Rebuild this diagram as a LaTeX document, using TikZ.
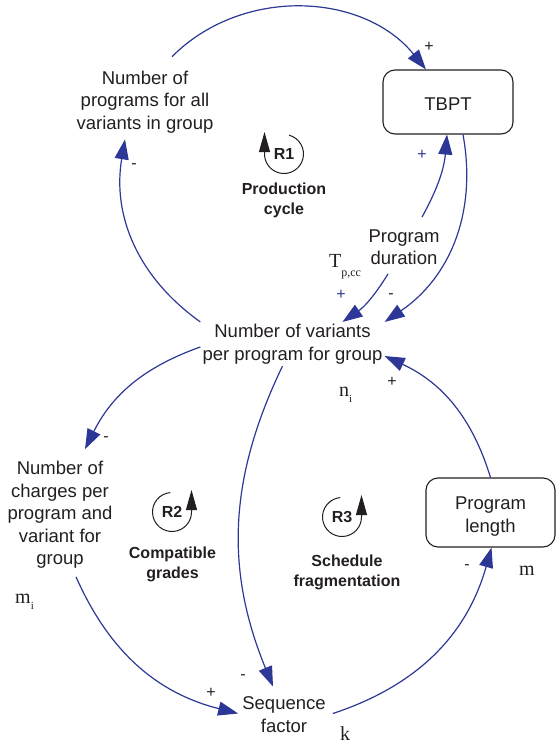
\documentclass[tikz,border=0pt]{standalone}
\usepackage{fontspec}
\setmainfont{Liberation Sans}
\newfontfamily\seriffont{Liberation Serif}
\usetikzlibrary{arrows.meta}
\definecolor{cldblue}{RGB}{45,55,150}
\definecolor{txt}{RGB}{35,31,32}
\begin{document}
\begin{tikzpicture}[x=1pt,y=-1pt,
  every node/.style={text=txt},
  var/.style={align=center, font=\fontsize{18.5}{22.5}\selectfont, inner sep=2pt},
  boxvar/.style={var, draw=txt, line width=1.1pt, rounded corners=12pt},
  conn/.style={draw=cldblue, line width=1.2pt, -{Triangle[length=20pt,width=14pt]}},
  pol/.style={font=\fontsize{16}{16}\selectfont, inner sep=0pt},
  bpol/.style={pol, text=cldblue},
  loopname/.style={font=\bfseries\fontsize{16}{20}\selectfont, align=center, inner sep=0pt},
  loopid/.style={font=\bfseries\fontsize{16}{16}\selectfont, inner sep=0pt},
  looparc/.style={draw=txt, line width=1pt, -{Triangle[length=20pt,width=11pt]}},
  sym/.style={font=\seriffont\fontsize{20}{20}\selectfont, inner sep=0pt, anchor=base west},
]
\useasboundingbox (0,0) rectangle (556,744);

% variables
\node[var] (nprog) at (145,102) {Number of\\programs for all\\variants in group};
\node[boxvar, minimum width=130pt, minimum height=64pt] (tbpt) at (448,102) {\rule{0pt}{17pt}TBPT};
\node[var] (pdur) at (404,247) {Program\\duration};
\node[var] (nvar) at (292.5,344) {Number of variants\\per program for group};
\node[var] (nchg) at (60,515) {Number of\\charges per\\program and\\variant for\\group};
\node[boxvar, minimum width=129pt, minimum height=69pt] (plen) at (490.5,512.5) {\rule{0pt}{21pt}Program\\length};
\node[var] (seqf) at (284,714.5) {Sequence\\factor};

% symbols
\node[sym] (tpcc) at (329,267) {T\raisebox{-9pt}{\fontsize{12}{12}\selectfont p,cc}};
\node[sym] (ni) at (339,396) {n\raisebox{-6pt}{\fontsize{11}{11}\selectfont i}};
\node[sym] (mi) at (15,603) {m\raisebox{-6pt}{\fontsize{11}{11}\selectfont i}};
\node[sym] (msym) at (519,575) {m};
\node[sym] (ksym) at (340,740) {k};

% connectors
\draw[conn] ([xshift=27pt,yshift=12pt]nprog.north) to[bend left=48] ([xshift=-22pt]tbpt.north);
\draw[conn] (nvar.north west) to[bend left=32] ([xshift=-20pt,yshift=-4pt]nprog.south);
\draw[conn] ([xshift=15pt]tbpt.south) to[bend left=33] (nvar.north east);
\draw[conn] ([xshift=18pt,yshift=10pt]pdur.north) to[bend right=12] ([xshift=-1pt]tbpt.south);
\draw[conn] ([xshift=-16pt,yshift=-7pt]pdur.south) to[bend left=12] ([xshift=50pt]nvar.north);
\draw[conn] ([yshift=-3pt]nvar.west) to[bend right=22] ([xshift=25pt,yshift=10pt]nchg.north);
\draw[conn] ([xshift=-10pt]nvar.south) to[bend right=24] ([xshift=-11pt,yshift=8pt]seqf.north);
\draw[conn] ([xshift=16pt,yshift=-6pt]nchg.south) to[bend right=26] ([xshift=-2pt,yshift=1pt]seqf.west);
\draw[conn] ([xshift=5pt,yshift=1pt]seqf.east) to[bend right=28] ([xshift=1pt]plen.south);
\draw[conn] (plen.north) to[bend right=24] ([yshift=-12pt]nvar.east);

% polarities
\node[pol] (s1) at (429,47) {+};
\node[pol] (s2) at (134,166) {-};
\node[bpol] (s3) at (422,155) {+};
\node[pol] (s4) at (391,296) {-};
\node[bpol] (s5) at (341,295) {+};
\node[pol] (s6) at (392,382) {+};
\node[pol] (s7) at (106,439) {-};
\node[pol] (s8) at (243,677) {-};
\node[pol] (s9) at (211,693) {+};
\node[pol] (s10) at (467,567) {-};

% loops
\node[loopid] (r1) at (284,154) {R1};
\draw[looparc] ([shift={(75:19.5pt)}]r1.center) arc[start angle=75,end angle=-180,radius=19.5pt] -- ++(0,-22);
\node[loopname] (r1n) at (284,200) {Production\\cycle};

\node[loopid] (r2) at (172,512) {R2};
\draw[looparc] ([shift={(95:19.5pt)}]r2.center) arc[start angle=95,end angle=360,radius=19.5pt] -- ++(0,-22);
\node[loopname] (r2n) at (172.5,564) {Compatible\\grades};

\node[loopid] (r3) at (342,517) {R3};
\draw[looparc] ([shift={(95:19.5pt)}]r3.center) arc[start angle=95,end angle=360,radius=19.5pt] -- ++(0,-22);
\node[loopname] (r3n) at (347,572) {Schedule\\fragmentation};
\end{tikzpicture}
\end{document}
